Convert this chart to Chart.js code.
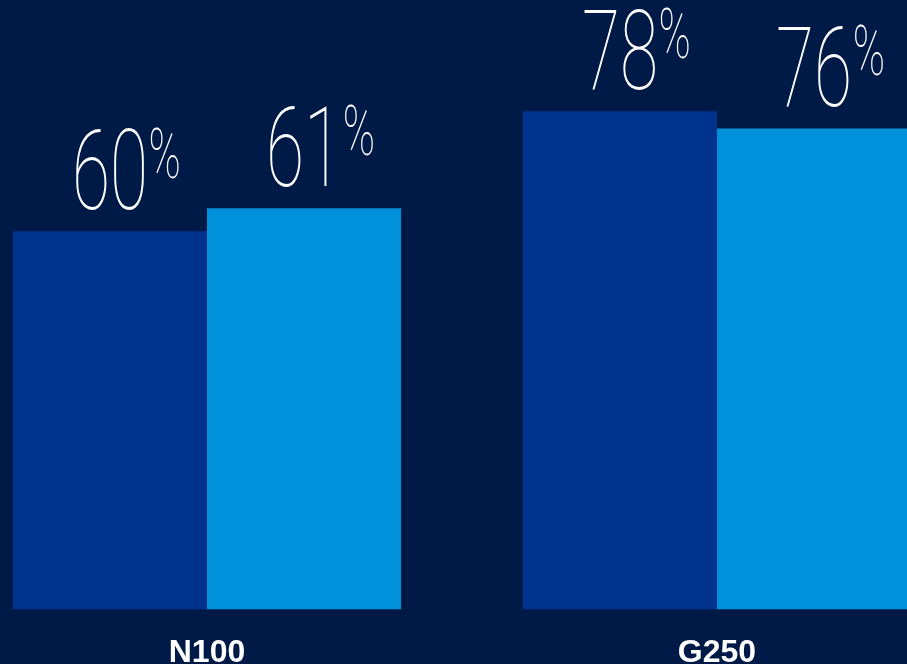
<!DOCTYPE html>
<html>
<head>
<meta charset="utf-8">
<script src="https://cdn.jsdelivr.net/npm/chart.js@4.4.0/dist/chart.umd.min.js"></script>
<style>
  html, body { margin: 0; padding: 0; background: #001A48; overflow: hidden; width: 907px; height: 664px; }
  #wrap { position: absolute; left: -48px; top: 0; width: 1020px; height: 696px; }
</style>
</head>
<body>
<div id="wrap"><canvas id="c" width="1020" height="696"></canvas></div>
<script>
const categories = ['N100', 'G250'];
// bar heights (percent)
const darkValues = [59.2, 78.0];
const lightValues = [62.8, 75.3];
// printed labels
const darkLabels = ['60', '78'];
const lightLabels = ['61', '76'];
const yMax = 95.4;

const valueLabelPlugin = {
  id: 'valueLabels',
  afterDatasetsDraw(chart) {
    const ctx = chart.ctx;
    const sx = 0.62;
    const gap = 22;
    chart.data.datasets.forEach((ds, di) => {
      const meta = chart.getDatasetMeta(di);
      meta.data.forEach((el, i) => {
        const txt = ds.valueLabels[i];
        ctx.save();
        ctx.fillStyle = '#ffffff';
        ctx.translate(el.x, el.y - gap);
        ctx.scale(sx, 1);
        ctx.font = '100 112px Roboto';
        ctx.textAlign = 'center';
        ctx.textBaseline = 'alphabetic';
        ctx.fillText(txt, 0, 0);
        const w = ctx.measureText(txt).width;
        ctx.font = '100 70px Roboto';
        ctx.textAlign = 'left';
        ctx.fillText('%', w / 2 + 1, -31);
        ctx.restore();
      });
    });
  }
};

new Chart(document.getElementById('c'), {
  type: 'bar',
  data: {
    labels: categories,
    datasets: [
      { data: darkValues, valueLabels: darkLabels, backgroundColor: '#00338D', borderWidth: 0,
        categoryPercentage: 0.761, barPercentage: 1.0 },
      { data: lightValues, valueLabels: lightLabels, backgroundColor: '#0091DA', borderWidth: 0,
        categoryPercentage: 0.761, barPercentage: 1.0 }
    ]
  },
  options: {
    responsive: false,
    animation: false,
    layout: { padding: 0 },
    plugins: { legend: { display: false }, tooltip: { enabled: false } },
    scales: {
      x: {
        grid: { display: false, drawTicks: false },
        border: { display: false },
        ticks: {
          color: '#ffffff',
          padding: 24,
          font: { family: "'Liberation Sans', Arial, sans-serif", weight: 'bold', size: 32 }
        }
      },
      y: {
        display: false,
        min: 0,
        max: yMax
      }
    }
  },
  plugins: [valueLabelPlugin]
});
</script>
</body>
</html>
